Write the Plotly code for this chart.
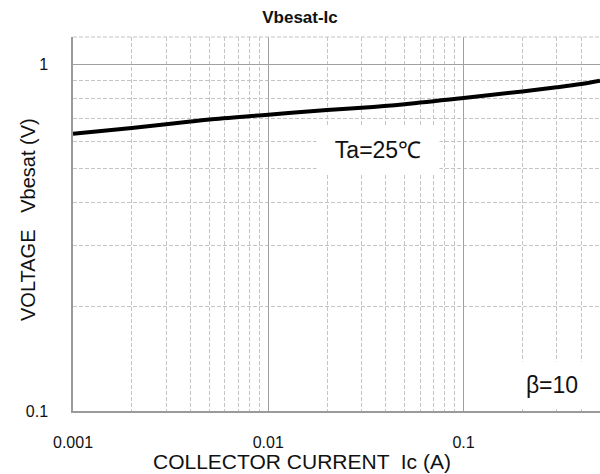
import math
import plotly.graph_objects as go

# ---- data ----
ic_amps = [0.001, 0.002, 0.003, 0.004, 0.005, 0.01, 0.02, 0.03, 0.05, 0.1, 0.2, 0.3, 0.4, 0.5]
vbesat_volts = [0.631, 0.656, 0.672, 0.684, 0.694, 0.716, 0.739, 0.750, 0.768, 0.800, 0.836, 0.859, 0.878, 0.898]
x_tick_vals = [0.001, 0.01, 0.1]
x_tick_text = ["0.001", "0.01", "0.1"]
y_tick_vals = [0.1, 1]
y_tick_text = ["0.1", "1"]

W, H = 600, 474
L, R, T, B = 73, 0, 37, 63
pw, ph = W - L - R, H - T - B

def px(x):
    return (x - L) / pw

def py(y):
    return 1 - (y - T) / ph

FONT = "Liberation Sans, Arial, sans-serif"
MAJOR = "#a0a0a0"
MINOR = "#c4c4c4"

fig = go.Figure()
fig.add_trace(go.Scatter(
    x=ic_amps, y=vbesat_volts, mode="lines",
    line=dict(color="black", width=4, shape="spline", smoothing=1.0),
    showlegend=False, hoverinfo="skip",
))

axis_common = dict(
    type="log", showgrid=True, gridcolor=MAJOR, gridwidth=1,
    showline=True, linecolor="#9a9a9a", linewidth=1.5,
    ticks="", zeroline=False,
    tickfont=dict(family=FONT, size=16, color="#111"),
    minor=dict(showgrid=True, gridcolor=MINOR, griddash="4px,2px", gridwidth=1, dtick="D1", ticks=""),
)

fig.update_xaxes(range=[-3, math.log10(0.5)], tickvals=x_tick_vals, ticktext=x_tick_text,
                 ticklabelstandoff=16, **axis_common)
fig.update_yaxes(range=[-1, math.log10(1.2)], tickvals=y_tick_vals, ticktext=y_tick_text,
                 ticklabelstandoff=20, **axis_common)

# top border (dashed like grid)
fig.add_shape(type="line", xref="paper", yref="paper", x0=0, x1=1, y0=1, y1=1,
              line=dict(color=MINOR, width=1, dash="4px,2px"))

fig.add_annotation(text="Ta=25℃", xref="paper", yref="paper", x=px(378), y=py(150),
                   xanchor="center", yanchor="middle",
                   showarrow=False, bgcolor="white", width=120, height=46,
                   font=dict(family=FONT, size=23, color="#111"))
fig.add_annotation(text="β=10", xref="paper", yref="paper", x=px(552), y=py(385),
                   xanchor="center", yanchor="middle",
                   showarrow=False, bgcolor="white", width=100, height=44,
                   font=dict(family=FONT, size=23, color="#111"))

fig.add_annotation(text="COLLECTOR CURRENT  Ic (A)", xref="paper", yref="paper",
                   x=px(302), y=py(461), showarrow=False, xanchor="center", yanchor="middle",
                   font=dict(family=FONT, size=21, color="#111"))
fig.add_annotation(text="VOLTAGE   Vbesat (V)", xref="paper", yref="paper",
                   x=px(28), y=py(220), showarrow=False, textangle=-90,
                   xanchor="center", yanchor="middle",
                   font=dict(family=FONT, size=20, color="#111"))

fig.update_layout(
    width=W, height=H,
    margin=dict(l=L, r=R, t=T, b=B),
    paper_bgcolor="white", plot_bgcolor="white",
    title=dict(text="<b>Vbesat-Ic</b>", x=0.5, xref="container", y=1 - 17 / H, yref="container",
               xanchor="center", yanchor="middle",
               font=dict(family=FONT, size=17, color="#111")),
)

fig.write_html("out.html", config={"displayModeBar": False},
               post_script="document.body.style.margin='0';document.body.style.overflow='hidden';")
